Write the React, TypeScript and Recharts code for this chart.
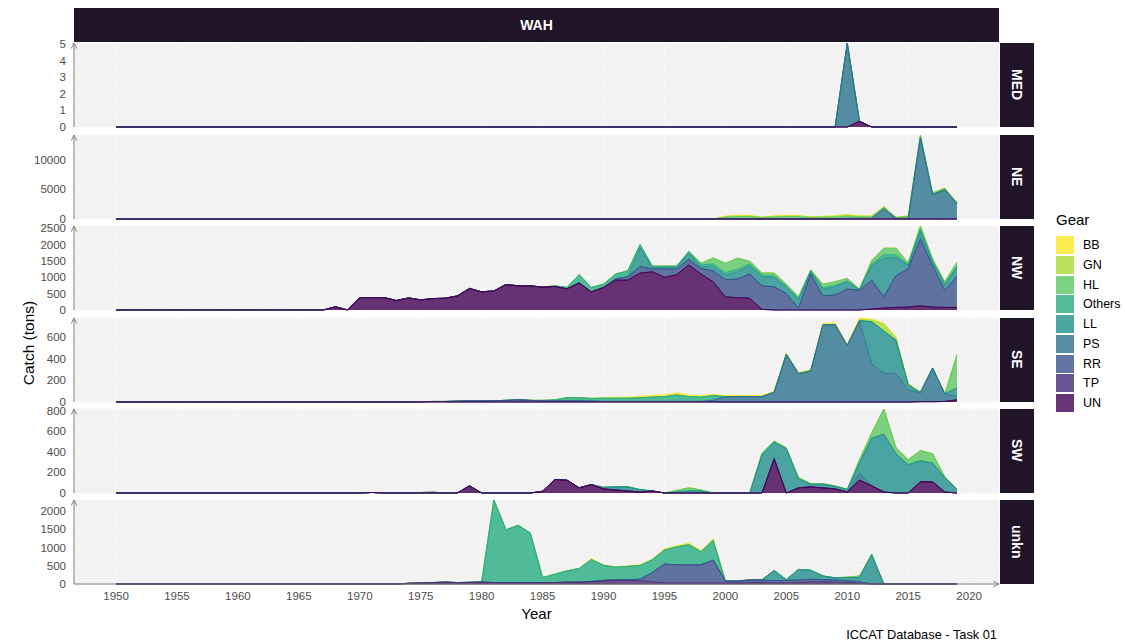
import React from 'react';
import { AreaChart, Area, XAxis, YAxis, CartesianGrid } from 'recharts';

// ---- data (tons) ----
const FIRST_YEAR = 1950;
const LAST_YEAR = 2019;
const X_TICKS = [1950, 1955, 1960, 1965, 1970, 1975, 1980, 1985, 1990, 1995, 2000, 2005, 2010, 2015, 2020];

// legend order, top of the stack first
const GEARS = ['BB', 'GN', 'HL', 'Others', 'LL', 'PS', 'RR', 'TP', 'UN'];
const GEAR_COLORS: Record<string, string> = {
  BB: '#FDE725',
  GN: '#AADC32',
  HL: '#5DC863',
  Others: '#27AD81',
  LL: '#21908C',
  PS: '#2C728E',
  RR: '#3B528B',
  TP: '#472D7B',
  UN: '#440154',
};

type Span = { from: number; v: number[] };

// MED
const MED_PS: Span = { from: 2009, v: [0, 5.06, 0] };
const MED_UN: Span = { from: 2009, v: [0, 0, 0.35, 0] };
const MED_TICKS = [0, 1, 2, 3, 4, 5];

// NE
const NE_PS: Span = { from: 1998, v: [0, 0, 50, 50, 50, 50, 50, 50, 50, 50, 50, 50, 100, 100, 100, 1700, 100, 100, 13700, 4100, 4900, 2600] };
const NE_HL: Span = { from: 1998, v: [0, 0, 250, 350, 350, 200, 300, 350, 350, 200, 250, 300, 400, 250, 250, 300, 150, 350, 350, 250, 250, 130] };
const NE_GN: Span = { from: 1998, v: [0, 0, 100, 100, 100, 50, 100, 100, 100, 80, 80, 100, 150, 100, 100, 60, 30, 50, 40, 30, 40, 20] };
const NE_BB: Span = { from: 1998, v: [0, 0, 100, 120, 100, 40, 80, 100, 100, 60, 80, 100, 150, 80, 80, 40, 20, 40, 20, 10, 20, 10] };
const NE_TICKS = [0, 5000, 10000];

// NW
const NW_UN: Span = {
  from: 1965,
  v: [0, 0, 0, 100, 0,
    380, 380, 380, 290, 370, 310, 350, 360, 430, 660,
    555, 585, 780, 740, 740, 700, 720, 650, 830, 555,
    690, 915, 915, 1130, 1170, 1000, 1080, 1380, 1100, 865,
    400, 380, 360, 20, 0, 0, 0, 0, 0, 0,
    0, 0, 30, 60, 80, 90, 130, 90, 80, 80],
};
const NW_RR: Span = {
  from: 1990,
  v: [0, 40, 100, 200, 85, 250, 170, 170, 170, 335,
    525, 565, 740, 720, 710, 500, 60, 1100, 430, 460,
    640, 600, 885, 340, 970, 1165, 2050, 1260, 520, 940],
};
const NW_OTHERS: Span = {
  from: 1985,
  v: [0, 20, 40, 250, 135,
    100, 145, 185, 100, 40, 40, 40, 60, 60, 60,
    80, 80, 60, 50, 50, 40, 40, 30, 50, 50,
    40, 10, 60, 100, 80, 30, 60, 40, 40, 50],
};
const NW_LL: Span = {
  from: 1992,
  v: [0, 570, 45, 50, 50, 180, 50, 150,
    145, 225, 250, 280, 290, 190, 260, 70, 200, 250,
    210, 20, 440, 1190, 560, 110, 240, 110, 160, 280],
};
const NW_HL: Span = {
  from: 1997,
  v: [0, 50, 180,
    280, 335, 80, 60, 80, 60, 40, 25, 110, 105,
    75, 10, 95, 200, 200, 45, 90, 60, 65, 110],
};
const NW_TICKS = [0, 500, 1000, 1500, 2000, 2500];

// SE
const SE_RR: Span = { from: 1975, v: [3, 5, 5, 8, 10, 10, 12, 15, 20, 15, 10, 10, 10, 10, 8, 5, 5, 5, 5, 5, 5, 5, 5, 5, 5, 0] };
const SE_UN: Span = { from: 2015, v: [0, 3, 3, 5, 20] };
const SE_OTHERS: Span = { from: 1985, v: [5, 10, 30, 30, 25, 30, 30, 30, 35, 40, 45, 60, 45, 40, 45, 0] };
const SE_PS: Span = {
  from: 1998,
  v: [0, 10, 50, 50, 50, 50, 90, 440, 262, 287, 710, 715, 521, 750, 350, 265, 265, 110, 80, 310, 70, 30],
};
const SE_LL: Span = { from: 2011, v: [0, 390, 390, 305, 50, 5, 0, 0, 80] };
const SE_GN: Span = { from: 2010, v: [0, 10, 15, 65, 25, 0] };
const SE_HL: Span = { from: 2018, v: [0, 305] };
const SE_BB: Span = {
  from: 1989,
  v: [0, 5, 8, 10, 12, 15, 15, 20, 15, 12, 12, 10, 10, 10, 10, 10, 10, 10, 10, 15, 15, 10, 15, 10, 5, 5, 10, 5, 5, 3, 0],
};
const SE_TICKS = [0, 200, 400, 600];

// SW
const SW_UN: Span = {
  from: 1970,
  v: [0, 5, 0, 0, 0, 0, 0, 0, 0, 70,
    0, 0, 0, 0, 0, 17, 131, 125, 50, 82,
    40, 30, 20, 10, 20, 0, 0, 0, 0, 0,
    0, 0, 0, 0, 333, 0, 50, 60, 50, 40,
    10, 125, 70, 10, 0, 0, 109, 109, 10, 0],
};
const SW_LL: Span = {
  from: 1974,
  v: [0, 5, 8, 0, 0, 0, 0, 0, 0, 0, 0, 0, 0, 0, 0, 0,
    15, 30, 40, 23, 0, 0, 10, 20, 20, 0,
    0, 0, 0, 368, 160, 428, 88, 25, 35, 25,
    24, 100, 460, 560, 380, 275, 204, 181, 138, 36],
};
const SW_HL: Span = {
  from: 1995,
  v: [0, 15, 30, 10, 0, 0, 0, 0, 20, 11, 10, 10, 7, 7, 4, 2, 33, 50, 245, 58, 48, 99, 90, 10, 0],
};
const SW_PS: Span = { from: 2010, v: [0, 65, 0] };
const SW_BB: Span = { from: 2011, v: [0, 6, 0] };
const SW_TICKS = [0, 200, 400, 600, 800];

// unkn
const UNKN_TP: Span = {
  from: 1973,
  v: [0, 20, 30, 40, 50, 40, 45,
    50, 40, 40, 40, 40, 40, 40, 50, 50, 60,
    80, 100, 100, 90, 60, 30, 30, 30, 30, 30,
    30, 30, 40, 40, 30, 30, 40, 60, 60, 50,
    40, 20, 0],
};
const UNKN_RR: Span = {
  from: 1988,
  v: [0, 10, 20, 20, 20, 40, 254, 516, 498, 498, 498, 627,
    50, 50, 70, 70, 60, 70, 70, 70, 60, 60, 50, 40, 0],
};
const UNKN_OTHERS: Span = {
  from: 1979,
  v: [0, 4, 2266, 1450, 1571, 1358, 136, 229, 311, 376, 600,
    413, 342, 365, 378, 351, 387, 492, 552, 359, 543,
    0, 6, 4, 0],
};
const UNKN_BB: Span = { from: 1979, v: [0, 10, 0, 0, 0, 0, 0, 0, 0, 0, 30, 15, 10, 15, 20, 20, 30, 35, 40, 30, 40, 0] };
const UNKN_LL: Span = { from: 2002, v: [0, 4, 281, 20, 290, 250, 100, 60, 90, 110, 810, 0] };
const UNKN_HL: Span = { from: 2009, v: [0, 10, 50, 0] };
const UNKN_TICKS = [0, 500, 1000, 1500, 2000];

const PANELS = [
  { name: 'MED', ticks: MED_TICKS, series: { PS: MED_PS, UN: MED_UN } },
  { name: 'NE', ticks: NE_TICKS, series: { PS: NE_PS, HL: NE_HL, GN: NE_GN, BB: NE_BB } },
  { name: 'NW', ticks: NW_TICKS, series: { UN: NW_UN, RR: NW_RR, Others: NW_OTHERS, LL: NW_LL, HL: NW_HL } },
  { name: 'SE', ticks: SE_TICKS, series: { RR: SE_RR, UN: SE_UN, Others: SE_OTHERS, PS: SE_PS, LL: SE_LL, GN: SE_GN, HL: SE_HL, BB: SE_BB } },
  { name: 'SW', ticks: SW_TICKS, series: { UN: SW_UN, LL: SW_LL, HL: SW_HL, PS: SW_PS, BB: SW_BB } },
  { name: 'unkn', ticks: UNKN_TICKS, series: { TP: UNKN_TP, RR: UNKN_RR, Others: UNKN_OTHERS, BB: UNKN_BB, LL: UNKN_LL, HL: UNKN_HL } },
];

function buildRows(series: Record<string, Span>) {
  const rows: any[] = [];
  for (let y = FIRST_YEAR; y <= LAST_YEAR; y++) {
    const row: any = { year: y };
    GEARS.forEach((g) => {
      const s = series[g];
      const i = s ? y - s.from : -1;
      row[g] = s && i >= 0 && i < s.v.length ? s.v[i] : 0;
    });
    rows.push(row);
  }
  return rows;
}

// ---- layout ----
const FONT = '"Liberation Sans", Arial, Helvetica, sans-serif';
const PLOT_LEFT = 74;
const PLOT_RIGHT = 999;
const PANEL_TOPS = [43, 134.5, 226, 317.5, 408.5, 500];
const PANEL_H = 84;
const PAD = 8; // room so that the end tick labels are not cut off
const XAXIS_H = 30;
const STRIP_BG = '#201429';
const AXIS_GREY = '#7f7f7f';

function Panel({ idx }: { idx: number }) {
  const p = PANELS[idx];
  const last = idx === PANELS.length - 1;
  const rows = buildRows(p.series as Record<string, Span>);
  const bottom = last ? 0 : PAD;
  const h = PAD + PANEL_H + (last ? XAXIS_H : PAD);
  return (
    <div style={{ position: 'absolute', left: 0, top: PANEL_TOPS[idx] - PAD, width: PLOT_RIGHT + 4, height: h }}>
      <AreaChart
        width={PLOT_RIGHT + 4}
        height={h}
        data={rows}
        margin={{ top: PAD, right: 4, bottom, left: 0 }}
        reverseStackOrder
      >
        <CartesianGrid fill="#F2F2F2" stroke="#F7F7F7" strokeWidth={1} />
        <XAxis
          type="number"
          dataKey="year"
          domain={[1946.55, 2022.45]}
          ticks={X_TICKS}
          interval={0}
          allowDataOverflow
          hide={!last}
          height={XAXIS_H}
          tickLine={false}
          axisLine={{ stroke: AXIS_GREY, strokeWidth: 1, markerEnd: 'url(#axisArrow)' }}
          tick={{ fill: '#4d4d4d', fontSize: 11.5 }}
        />
        <YAxis
          width={PLOT_LEFT}
          type="number"
          domain={[0, 'dataMax']}
          ticks={p.ticks}
          interval={0}
          tickLine={false}
          axisLine={{ stroke: AXIS_GREY, strokeWidth: 1, markerStart: 'url(#axisArrow)' }}
          tick={{ fill: '#4d4d4d', fontSize: 11.5 }}
        />
        {GEARS.map((g) => (
          <Area
            key={g}
            type="linear"
            dataKey={g}
            stackId="gear"
            fill={GEAR_COLORS[g]}
            fillOpacity={0.8}
            stroke={GEAR_COLORS[g]}
            strokeWidth={0.9}
            dot={false}
            activeDot={false}
            isAnimationActive={false}
          />
        ))}
      </AreaChart>
    </div>
  );
}

export default function App() {
  return (
    <div
      style={{
        position: 'absolute',
        left: 0,
        top: 0,
        width: 1125,
        height: 644,
        background: '#fff',
        fontFamily: FONT,
        color: '#000',
      }}
    >
      <svg width={0} height={0} style={{ position: 'absolute' }}>
        <defs>
          <marker
            id="axisArrow"
            viewBox="0 0 10 10"
            refX="9"
            refY="5"
            markerWidth="7"
            markerHeight="7"
            markerUnits="userSpaceOnUse"
            orient="auto-start-reverse"
          >
            <path d="M1,1 L9,5 L1,9" fill="none" stroke={AXIS_GREY} strokeWidth="1.4" />
          </marker>
        </defs>
      </svg>

      {PANELS.map((p, i) => (
        <React.Fragment key={p.name}>
          <Panel idx={i} />
          <div
            style={{
              position: 'absolute',
              left: 1000,
              top: PANEL_TOPS[i],
              width: 34,
              height: PANEL_H,
              background: STRIP_BG,
              color: '#fff',
              fontWeight: 'bold',
              fontSize: 14,
              display: 'flex',
              alignItems: 'center',
              justifyContent: 'center',
            }}
          >
            <span style={{ writingMode: 'vertical-rl' }}>{p.name}</span>
          </div>
        </React.Fragment>
      ))}

      {/* top strip */}
      <div
        style={{
          position: 'absolute',
          left: PLOT_LEFT,
          top: 8,
          width: PLOT_RIGHT - PLOT_LEFT,
          height: 34,
          background: STRIP_BG,
          color: '#fff',
          fontWeight: 'bold',
          fontSize: 14,
          display: 'flex',
          alignItems: 'center',
          justifyContent: 'center',
        }}
      >
        WAH
      </div>

      {/* axis titles */}
      <div
        style={{
          position: 'absolute',
          left: 29,
          top: 343,
          transform: 'translate(-50%, -50%) rotate(-90deg)',
          fontSize: 15.5,
          whiteSpace: 'nowrap',
        }}
      >
        Catch (tons)
      </div>
      <div
        style={{
          position: 'absolute',
          left: (PLOT_LEFT + PLOT_RIGHT) / 2,
          top: 613,
          transform: 'translate(-50%, -50%)',
          fontSize: 15,
        }}
      >
        Year
      </div>
      <div
        style={{
          position: 'absolute',
          right: 1125 - PLOT_RIGHT + 2,
          top: 634,
          transform: 'translateY(-50%)',
          fontSize: 12.8,
          whiteSpace: 'nowrap',
        }}
      >
        ICCAT Database - Task 01
      </div>

      {/* legend */}
      <div style={{ position: 'absolute', left: 1056, top: 211, fontSize: 15 }}>Gear</div>
      {GEARS.map((g, i) => (
        <React.Fragment key={g}>
          <div
            style={{
              position: 'absolute',
              left: 1056,
              top: 236 + i * 19.75,
              width: 18,
              height: 18,
              background: GEAR_COLORS[g],
              opacity: 0.8,
              boxSizing: 'border-box',
              border: `1px solid ${GEAR_COLORS[g]}`,
            }}
          />
          <div
            style={{
              position: 'absolute',
              left: 1083,
              top: 236 + i * 19.75 + 9,
              transform: 'translateY(-50%)',
              fontSize: 12.5,
            }}
          >
            {g}
          </div>
        </React.Fragment>
      ))}
    </div>
  );
}
